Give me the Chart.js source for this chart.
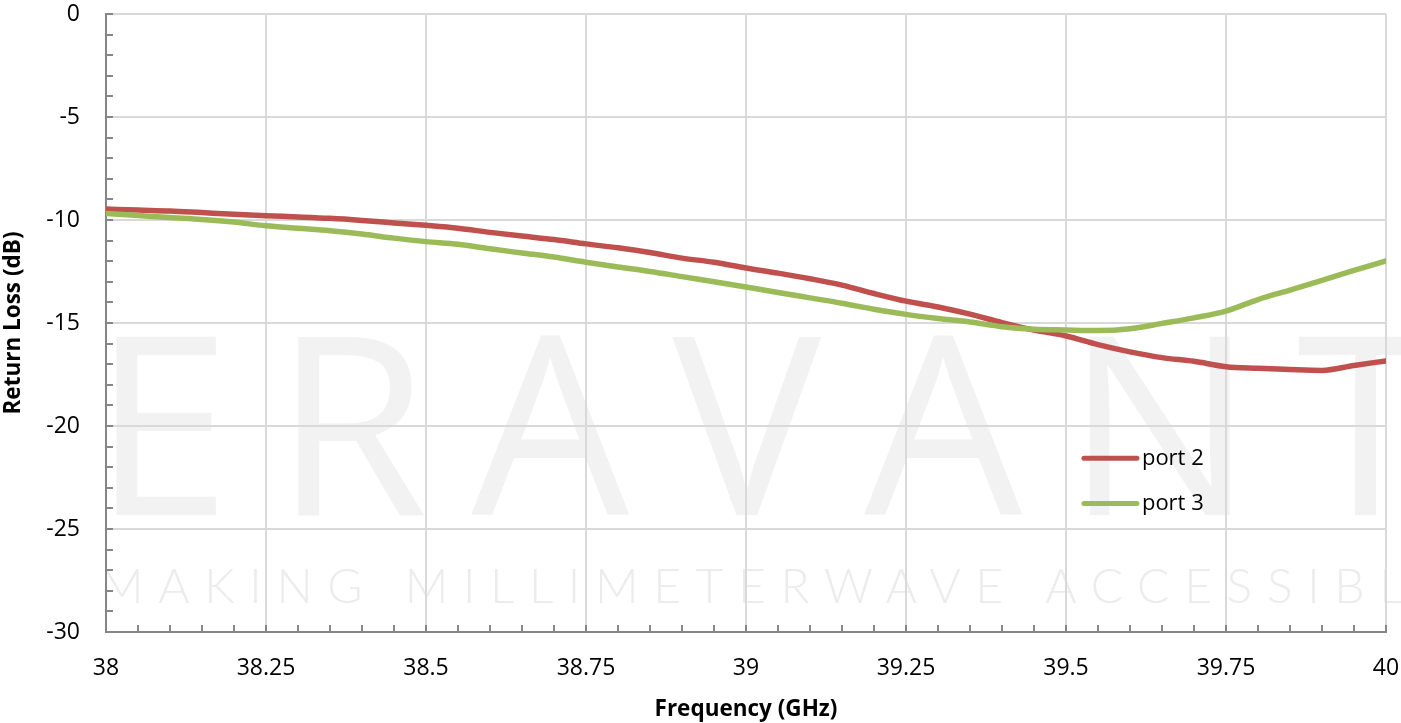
<!DOCTYPE html>
<html>
<head>
<meta charset="utf-8">
<script src="https://cdn.jsdelivr.net/npm/chart.js@4.4.1/dist/chart.umd.min.js"></script>
<style>
  html, body { margin: 0; padding: 0; background: #fff; }
</style>
</head>
<body>
<canvas id="returnLoss" width="1401" height="723"></canvas>
<script>
// ── Data ───────────────────────────────────────────────────
const FREQ_GHZ = [
  38.00, 38.05, 38.10, 38.15, 38.20, 38.25, 38.30, 38.35, 38.40, 38.45,
  38.50, 38.55, 38.60, 38.65, 38.70, 38.75, 38.80, 38.85, 38.90, 38.95,
  39.00, 39.05, 39.10, 39.15, 39.20, 39.25, 39.30, 39.35, 39.40, 39.45,
  39.50, 39.55, 39.60, 39.65, 39.70, 39.75, 39.80, 39.85, 39.90, 39.95,
  40.00
];
const PORT2_DB = [
  -9.47, -9.52, -9.56, -9.64, -9.72, -9.79, -9.85, -9.92, -10.02, -10.14,
  -10.26, -10.40, -10.60, -10.78, -10.95, -11.16, -11.35, -11.58, -11.85, -12.05,
  -12.33, -12.58, -12.85, -13.16, -13.57, -13.94, -14.22, -14.57, -14.98, -15.34,
  -15.63, -16.05, -16.40, -16.68, -16.86, -17.12, -17.20, -17.26, -17.30, -17.06,
  -16.84
];
const PORT3_DB = [
  -9.68, -9.78, -9.88, -9.97, -10.10, -10.28, -10.40, -10.52, -10.68, -10.88,
  -11.05, -11.18, -11.40, -11.60, -11.80, -12.05, -12.28, -12.50, -12.75, -13.00,
  -13.25, -13.52, -13.78, -14.04, -14.33, -14.58, -14.78, -14.95, -15.18, -15.30,
  -15.34, -15.37, -15.28, -15.02, -14.75, -14.42, -13.86, -13.40, -12.93, -12.45,
  -11.99
];
const SERIES_NAMES = ['port 2', 'port 3'];

const X_MIN = 38, X_MAX = 40, X_STEP = 0.25, X_MINOR = 0.05;
const Y_MIN = -30, Y_MAX = 0, Y_STEP = 5, Y_MINOR = 1;

// ── Style ──────────────────────────────────────────────────
const FONT = "'Open Sans', 'Liberation Sans', sans-serif";
const COLOR_PORT2 = '#c0504d';
const COLOR_PORT3 = '#9bbb59';
const COLOR_GRID  = '#d9d9d9';
const COLOR_AXIS  = '#868686';
const COLOR_TEXT  = '#000';

const toPoints = (ys) => FREQ_GHZ.map((f, i) => ({ x: f, y: ys[i] }));

// faint company watermark behind the grid
const watermark = {
  id: 'watermark',
  beforeDraw(chart) {
    const ctx = chart.ctx;
    ctx.save();
    ctx.fillStyle = '#f2f2f2';
    ctx.textBaseline = 'alphabetic';
    ctx.font = '250px ' + FONT;
    ctx.letterSpacing = '43px';
    ctx.fillText('ERAVANT', 92, 515);
    ctx.font = '300 48px Lato, ' + FONT;
    ctx.fillStyle = '#ececec';
    const tag = 'MAKING MILLIMETERWAVE ACCESSIBLE';
    ctx.letterSpacing = '0px';
    const w = ctx.measureText(tag).width;
    ctx.letterSpacing = ((1345 - w) / (tag.length - 1)).toFixed(1) + 'px';
    ctx.fillText(tag, 100, 603);
    ctx.restore();
  }
};

// minor + major tick marks pointing into the plot
const innerTicks = {
  id: 'innerTicks',
  afterDraw(chart) {
    const { ctx, chartArea: a, scales: { x, y } } = chart;
    ctx.save();
    ctx.strokeStyle = COLOR_AXIS;
    ctx.lineWidth = 2;
    ctx.beginPath();
    for (let v = X_MIN; v <= X_MAX + 1e-9; v += X_MINOR) {
      const px = Math.round(x.getPixelForValue(v));
      ctx.moveTo(px, a.bottom);
      ctx.lineTo(px, a.bottom - 7);
    }
    for (let v = Y_MIN; v <= Y_MAX + 1e-9; v += Y_MINOR) {
      const py = Math.round(y.getPixelForValue(v));
      ctx.moveTo(a.left, py);
      ctx.lineTo(a.left + 7, py);
    }
    ctx.stroke();
    ctx.restore();
  }
};

// legend sitting inside the plot, lower right
const insideLegend = {
  id: 'insideLegend',
  afterDatasetsDraw(chart) {
    const { ctx, chartArea: a } = chart;
    const x0 = a.left + (a.right - a.left) * 0.764;
    const rows = [a.top + (a.bottom - a.top) * 0.719, a.top + (a.bottom - a.top) * 0.792];
    ctx.save();
    ctx.font = '22px ' + FONT;
    ctx.textBaseline = 'middle';
    ctx.fillStyle = COLOR_TEXT;
    chart.data.datasets.forEach((ds, i) => {
      ctx.strokeStyle = ds.borderColor;
      ctx.lineWidth = 5;
      ctx.lineCap = 'round';
      ctx.beginPath();
      ctx.moveTo(x0, rows[i]);
      ctx.lineTo(x0 + 53, rows[i]);
      ctx.stroke();
      ctx.fillText(ds.label, x0 + 58, rows[i]);
    });
    ctx.restore();
  }
};

new Chart(document.getElementById('returnLoss'), {
  type: 'line',
  data: {
    datasets: [
      {
        label: SERIES_NAMES[0],
        data: toPoints(PORT2_DB),
        borderColor: COLOR_PORT2,
        borderWidth: 5.5,
        borderCapStyle: 'round',
        pointRadius: 0,
        cubicInterpolationMode: 'monotone',
        order: 1,
      },
      {
        label: SERIES_NAMES[1],
        data: toPoints(PORT3_DB),
        borderColor: COLOR_PORT3,
        borderWidth: 5.5,
        borderCapStyle: 'round',
        pointRadius: 0,
        cubicInterpolationMode: 'monotone',
        order: 0,
      }
    ]
  },
  options: {
    responsive: false,
    animation: false,
    layout: { padding: { left: 0, right: 15, top: 14, bottom: 0 } },
    plugins: {
      legend: { display: false },
      tooltip: { enabled: false }
    },
    scales: {
      x: {
        type: 'linear',
        min: X_MIN,
        max: X_MAX,
        // fixed box, and don't let edge labels push the plot area in
        afterFit: (s) => { s.height = 91; s.paddingLeft = 0; s.paddingRight = 0; },
        grid: { color: COLOR_GRID, lineWidth: 2, drawTicks: false },
        border: { color: COLOR_AXIS, width: 2 },
        ticks: {
          stepSize: X_STEP,
          padding: 23,
          maxRotation: 0,
          autoSkip: false,
          color: COLOR_TEXT,
          font: { family: FONT, size: 23 },
          callback: (v) => String(+v.toFixed(2))
        },
        title: {
          display: true,
          text: 'Frequency (GHz)',
          color: COLOR_TEXT,
          font: { family: FONT, size: 22.5, weight: 'bold' },
          padding: { top: 0, bottom: 0 }
        }
      },
      y: {
        min: Y_MIN,
        max: Y_MAX,
        afterFit: (s) => { s.width = 106; s.paddingTop = 0; s.paddingBottom = 0; },
        grid: { color: COLOR_GRID, lineWidth: 2, drawTicks: false },
        border: { color: COLOR_AXIS, width: 2 },
        ticks: {
          stepSize: Y_STEP,
          padding: 26,
          color: COLOR_TEXT,
          font: { family: FONT, size: 23 }
        },
        title: {
          display: true,
          text: 'Return Loss (dB)',
          color: COLOR_TEXT,
          font: { family: FONT, size: 22.5, weight: 'bold' },
          padding: { top: 0, bottom: 0 }
        }
      }
    }
  },
  plugins: [watermark, innerTicks, insideLegend]
});
</script>
</body>
</html>
